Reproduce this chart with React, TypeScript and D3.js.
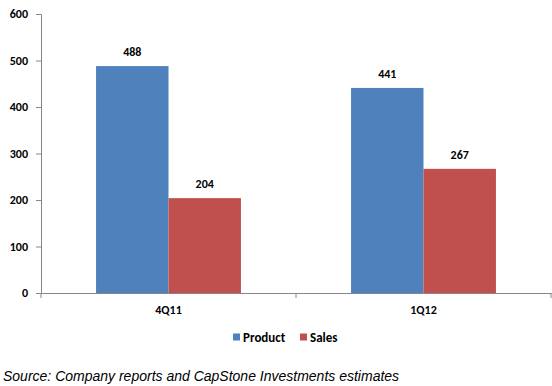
import { useEffect, useRef } from "react";
import * as d3 from "d3";

const categories = ["4Q11", "1Q12"];
const seriesNames = ["Product", "Sales"];
const productValues = [488, 441];
const salesValues = [204, 267];
const yTicks = [0, 100, 200, 300, 400, 500, 600];
const sourceNote = "Source: Company reports and CapStone Investments estimates";

export default function App() {
  const svgRef = useRef<SVGSVGElement>(null);

  useEffect(() => {
    const width = 552;
    const height = 386;
    const margin = { top: 14, right: 1, bottom: 93, left: 41 };
    const font = "Calibri, Carlito, 'Liberation Sans', Arial, sans-serif";

    const svg = d3.select(svgRef.current);
    svg.selectAll("*").remove();
    svg.attr("width", width).attr("height", height);

    const x = d3
      .scaleBand()
      .domain(categories)
      .range([margin.left, width - margin.right]);
    const x1 = d3
      .scaleBand()
      .domain(seriesNames)
      .range([0, x.bandwidth()])
      .paddingInner(0)
      .paddingOuter(0.76);
    const y = d3
      .scaleLinear()
      .domain([0, 600])
      .range([height - margin.bottom, margin.top]);

    const color = d3
      .scaleOrdinal<string>()
      .domain(seriesNames)
      .range(["#4F81BD", "#C0504D"]);

    const rows = categories.map((c, i) => ({
      cat: c,
      vals: [
        { name: "Product", value: productValues[i] },
        { name: "Sales", value: salesValues[i] },
      ],
    }));

    // bars
    const groups = svg
      .selectAll("g.cat")
      .data(rows)
      .enter()
      .append("g")
      .attr("class", "cat")
      .attr("transform", (d) => `translate(${x(d.cat)},0)`);

    groups
      .selectAll("rect")
      .data((d) => d.vals)
      .enter()
      .append("rect")
      .attr("x", (d) => x1(d.name)!)
      .attr("y", (d) => y(d.value))
      .attr("width", x1.bandwidth())
      .attr("height", (d) => y(0) - y(d.value))
      .attr("fill", (d) => color(d.name));

    groups
      .selectAll("text")
      .data((d) => d.vals)
      .enter()
      .append("text")
      .attr("x", (d) => x1(d.name)! + x1.bandwidth() / 2)
      .attr("y", (d) => y(d.value) - 10)
      .attr("text-anchor", "middle")
      .attr("font-family", font)
      .attr("font-weight", "bold")
      .attr("font-size", 12)
      .attr("fill", "#000")
      .text((d) => d.value);

    // y axis
    const yAxis = svg
      .append("g")
      .attr("transform", `translate(${margin.left},0)`)
      .call(d3.axisLeft(y).tickValues(yTicks).tickSize(5).tickPadding(8));
    yAxis.select(".domain").attr("stroke", "#868686");
    yAxis.selectAll(".tick line").attr("stroke", "#868686");
    yAxis
      .selectAll(".tick text")
      .attr("font-family", font)
      .attr("font-weight", "bold")
      .attr("font-size", 12)
      .attr("fill", "#000");

    // x axis
    const xAxis = svg
      .append("g")
      .attr("transform", `translate(0,${y(0)})`)
      .call(d3.axisBottom(x).tickSize(0).tickPadding(12));
    xAxis.select(".domain").attr("stroke", "#868686");
    xAxis
      .selectAll(".tick text")
      .attr("font-family", font)
      .attr("font-weight", "bold")
      .attr("font-size", 12)
      .attr("fill", "#000");

    // category separators
    const edges = [margin.left, ...categories.map((c) => x(c)! + x.bandwidth())];
    svg
      .append("g")
      .selectAll("line")
      .data(edges)
      .enter()
      .append("line")
      .attr("x1", (d) => d)
      .attr("x2", (d) => d)
      .attr("y1", y(0))
      .attr("y2", y(0) + 5)
      .attr("stroke", "#868686");

    // legend
    const legendX = [233, 300];
    const legend = svg
      .append("g")
      .selectAll("g")
      .data(seriesNames)
      .enter()
      .append("g")
      .attr("transform", (d, i) => `translate(${legendX[i]},337)`);
    legend
      .append("rect")
      .attr("x", 0)
      .attr("y", -3.5)
      .attr("width", 7)
      .attr("height", 7)
      .attr("fill", (d) => color(d));
    legend
      .append("text")
      .attr("x", 10)
      .attr("y", 4.5)
      .attr("font-family", font)
      .attr("font-weight", "bold")
      .attr("font-size", 13)
      .attr("fill", "#000")
      .text((d) => d);

    // source
    svg
      .append("text")
      .attr("x", 3)
      .attr("y", 381)
      .attr("font-family", "'Liberation Sans', Arial, sans-serif")
      .attr("font-style", "italic")
      .attr("font-size", 14)
      .attr("fill", "#000")
      .text(sourceNote);
  }, []);

  return (
    <svg
      ref={svgRef}
      style={{ position: "absolute", left: 0, top: 0, background: "#fff" }}
    ></svg>
  );
}
